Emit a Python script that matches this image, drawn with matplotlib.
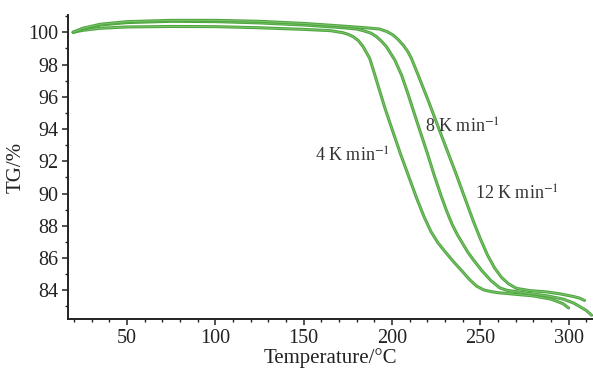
import matplotlib
matplotlib.use("Agg")
import matplotlib.pyplot as plt
from matplotlib.ticker import MultipleLocator

plt.rcParams['font.family'] = ['Liberation Serif', 'DejaVu Serif']
plt.rcParams['mathtext.fontset'] = 'stix'

# 4 K/min
T4 = [19.5, 25, 35, 50, 75, 100, 125, 150, 165, 172, 175, 178, 181, 183.7, 187.4,
      190.3, 196, 200, 205, 210, 214, 218, 222, 226, 230, 235, 240, 244, 248, 252,
      256, 260, 270, 280, 290, 296.8, 300]
TG4 = [100.0, 100.12, 100.25, 100.33, 100.36, 100.35, 100.28, 100.18, 100.1, 99.98,
       99.88, 99.73, 99.48, 99.1, 98.38, 97.35, 95.3, 94.0, 92.4, 90.9, 89.7, 88.6,
       87.65, 86.95, 86.4, 85.75, 85.15, 84.65, 84.25, 84.02, 83.92, 83.85, 83.75,
       83.65, 83.45, 83.17, 82.9]

# 8 K/min
T8 = [19.5, 25, 35, 50, 75, 100, 125, 150, 170, 180, 183.7, 188, 191.2, 194, 196.9,
      201.6, 205.4, 209, 214, 220, 224, 228, 231, 234, 237, 240, 243, 246, 251, 256,
      261, 265, 270, 278, 288, 297, 303, 310, 313]
TG8 = [100.0, 100.22, 100.45, 100.6, 100.68, 100.66, 100.58, 100.45, 100.3, 100.2,
       100.1, 99.95, 99.73, 99.45, 99.1, 98.28, 97.35, 96.2, 94.5, 92.5, 91.1, 89.8,
       88.9, 88.1, 87.45, 86.9, 86.35, 85.9, 85.2, 84.6, 84.15, 84.0, 83.92, 83.8,
       83.65, 83.45, 83.2, 82.75, 82.45]

# 12 K/min
T12 = [19.5, 25, 35, 50, 75, 100, 125, 150, 170, 185, 193, 197, 200.6, 203.5,
       206.3, 209, 211, 214.8, 220.4, 228, 236, 242, 246, 250, 254, 258, 262, 266,
       270.4, 278, 287.4, 295, 302.4, 306, 309]
TG12 = [100.0, 100.25, 100.5, 100.66, 100.74, 100.74, 100.68, 100.55, 100.4, 100.28,
        100.2, 100.05, 99.83, 99.55, 99.21, 98.8, 98.38, 97.35, 95.8, 93.6, 91.3, 89.5,
        88.3, 87.2, 86.2, 85.4, 84.8, 84.4, 84.12, 83.98, 83.9, 83.78, 83.62, 83.52,
        83.37]

labels = [r'4 K min$^{-1}$', r'8 K min$^{-1}$', r'12 K min$^{-1}$']
label_pos = [(156.5, 92.3), (218.5, 94.1), (247, 89.95)]

xticks = [50, 100, 150, 200, 250, 300]
yticks = [84, 86, 88, 90, 92, 94, 96, 98, 100]

fig = plt.figure(figsize=(5.93, 3.69), dpi=100)
ax = fig.add_axes([0.1147, 0.1347, 0.8853, 0.8246])

green = '#4fa640'
for T, TG in [(T4, TG4), (T8, TG8), (T12, TG12)]:
    ax.plot(T, TG, color=green, lw=2.2, solid_capstyle='round', solid_joinstyle='round')
    ax.plot(T, TG, color='#7cc46c', lw=0.7, solid_capstyle='round', solid_joinstyle='round')

for lab, (x, y) in zip(labels, label_pos):
    ax.text(x, y, lab, fontsize=13, color='#333333', ha='left', va='center')

ax.set_xlim(16.6, 313.8)
ax.set_ylim(82.2, 101.07)
ax.set_xticks(xticks)
ax.set_yticks(yticks)
ax.xaxis.set_minor_locator(MultipleLocator(10))
ax.yaxis.set_minor_locator(MultipleLocator(1))
ax.tick_params(which='major', direction='out', length=4, width=1.1, labelsize=14.5,
               colors='#222222', pad=3)
ax.tick_params(which='minor', direction='out', length=2.5, width=1.0, colors='#222222')

for s in ['top', 'right']:
    ax.spines[s].set_visible(False)
for s in ['left', 'bottom']:
    ax.spines[s].set_linewidth(1.4)
    ax.spines[s].set_color('#222222')

ax.set_xlabel('Temperature/°C', fontsize=15, color='#222222', labelpad=0)
ax.set_ylabel('TG/%', fontsize=15, color='#222222', labelpad=2)

fig.savefig('out.png', dpi=100)
